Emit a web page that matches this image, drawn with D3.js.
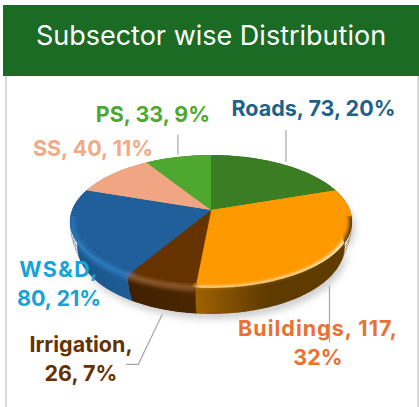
<!DOCTYPE html>
<html>
<head>
<meta charset="utf-8">
<script src="https://cdn.jsdelivr.net/npm/d3@7"></script>
<style>
  html, body { margin: 0; padding: 0; background: #fff; }
  svg { display: block; }
  text { font-family: Inter, "Open Sans", sans-serif; }
</style>
</head>
<body>
<div id="chart"></div>
<script>
// the data
var categories = ["Roads", "Buildings", "Irrigation", "WS&D", "SS", "PS"];
var values = [73, 117, 26, 80, 40, 33];
var percents = [20, 32, 7, 21, 11, 9];
var title = "Subsector wise Distribution";

// colours per slice, same order as categories
var faceColors = ["#3b7d23", "#fe9900", "#663300", "#215f9a", "#f0a683", "#4ea72e"];
var bevelColors = ["#3b7d23", "#fe9900", "#8a5a2a", "#2a78bb", "#f0a683", "#4ea72e"];
var wallColors = [["#2c5e1a", "#2c5e1a"], ["#a06200", "#5f3b00"], ["#3f2000", "#4a2600"],
                  ["#1b5488", "#1d5c96"], ["#b07a60", "#b07a60"], ["#3a7d22", "#3a7d22"]];
var labelColors = ["#1f6289", "#e97132", "#663300", "#17a2d8", "#f2a984", "#4ea72e"];

var width = 419, height = 407;

var svg = d3.select("#chart").append("svg")
  .attr("width", width)
  .attr("height", height);
var defs = svg.append("defs");

// frame and header
svg.append("rect").attr("x", 5).attr("y", 70).attr("width", 2).attr("height", height - 70).attr("fill", "#d9d9d9");
svg.append("rect").attr("x", 417).attr("y", 70).attr("width", 2).attr("height", height - 70).attr("fill", "#d9d9d9");
svg.append("rect").attr("x", 3).attr("y", 5).attr("width", 416).attr("height", 71).attr("fill", "#1b6b25");
svg.append("text")
  .attr("x", 211).attr("y", 45)
  .attr("text-anchor", "middle")
  .attr("fill", "#fff")
  .style("font-size", "27px")
  .text(title);

// pie geometry: a tilted disc with a bit of perspective, rounded toward the bottom
var cx = 211, cy = 210, R = 139, Ry = 64.5, persp = 0.173, depth = 25;

function rOf(d) { return 1 - 0.055 * Math.pow(d / depth, 2); }
function project(a, d, r) {
  var u = Math.sin(a), v = Math.cos(a);
  var s = 1 / (1 + persp * v);
  var k = r * rOf(d);
  return [cx + R * k * u * s, cy - Ry * k * v * s + d * s];
}
var line = d3.line();
function arcPoints(a0, a1, d, r) {
  var n = Math.max(2, Math.ceil((a1 - a0) * 40));
  return d3.range(n + 1).map(function(i) { return project(a0 + (a1 - a0) * i / n, d, r); });
}
function facePath(s, r) {
  return line([[cx, cy]].concat(arcPoints(s.startAngle, s.endAngle, 0, r))) + "Z";
}
function bandPath(s, d0, d1) {
  return line(arcPoints(s.startAngle, s.endAngle, d0, 1)
    .concat(arcPoints(s.startAngle, s.endAngle, d1, 1).reverse())) + "Z";
}
// wall outline built from thin rings so the rounded profile survives
function wallPath(s) {
  return d3.range(0, depth, 4).map(function(d) {
    return bandPath(s, d, Math.min(d + 4.5, depth));
  }).join("");
}

var slices = d3.pie().sort(null).value(function(d) { return d; })(values);

defs.append("filter").attr("id", "shadowBlur")
  .attr("x", "-20%").attr("y", "-20%").attr("width", "140%").attr("height", "140%")
  .append("feGaussianBlur").attr("stdDeviation", 3.5);
defs.append("filter").attr("id", "edgeBlur")
  .attr("x", "-10%").attr("y", "-10%").attr("width", "120%").attr("height", "120%")
  .append("feGaussianBlur").attr("stdDeviation", 2);

var clip = defs.append("clipPath").attr("id", "pieClip");
slices.forEach(function(s) {
  clip.append("path").attr("d", facePath(s, 1));
  clip.append("path").attr("d", wallPath(s));
});

// wall gradients, run left to right across each slice
slices.forEach(function(s, i) {
  var xs = arcPoints(s.startAngle, s.endAngle, 0, 1).map(function(p) { return p[0]; });
  var g = defs.append("linearGradient").attr("id", "wall" + i)
    .attr("gradientUnits", "userSpaceOnUse")
    .attr("x1", d3.min(xs)).attr("x2", i == 1 ? d3.min(xs) + 70 : d3.max(xs))
    .attr("y1", 0).attr("y2", 0);
  g.append("stop").attr("offset", 0).attr("stop-color", wallColors[i][0]);
  g.append("stop").attr("offset", 1).attr("stop-color", wallColors[i][1]);
});

// soft shadow under the disc
svg.append("g").attr("filter", "url(#shadowBlur)").attr("opacity", 0.9)
  .attr("transform", "translate(3,5)")
  .selectAll("path").data(slices).join("path")
  .attr("d", function(d) { return bandPath(d, 2, depth); })
  .attr("fill", "#c9c9c9");

var pie = svg.append("g").attr("clip-path", "url(#pieClip)");

// side walls
pie.selectAll(".wall").data(slices).join("path")
  .attr("class", "wall")
  .attr("d", wallPath)
  .attr("fill", function(d, i) { return "url(#wall" + i + ")"; })
  .attr("stroke", function(d, i) { return "url(#wall" + i + ")"; })
  .attr("stroke-width", 0.5);

// bevel: face plus a rim band in one blurred shape, so it fades into the wall
// Buildings has no light band, its face just fades into the dark wall
pie.append("g").attr("filter", "url(#edgeBlur)")
  .selectAll("path").data(slices).join("path")
  .attr("d", function(d, i) { return i == 1 ? facePath(d, 0.97) : facePath(d, 1) + bandPath(d, 0, 3); })
  .attr("fill", function(d, i) { return bevelColors[i]; });

// faces, blurred copy first for a soft inner edge of the bevel
pie.append("g").attr("filter", "url(#edgeBlur)")
  .selectAll("path").data(slices).join("path")
  .attr("d", function(d) { return facePath(d, 0.97); })
  .attr("fill", function(d, i) { return faceColors[i]; });
pie.selectAll(".face").data(slices).join("path")
  .attr("class", "face")
  .attr("d", function(d) { return facePath(d, 0.94); })
  .attr("fill", function(d, i) { return faceColors[i]; })
  .attr("stroke", function(d, i) { return faceColors[i]; })
  .attr("stroke-width", 0.4);

// the back rim shows no wall, keep it sharp up to the outline
// (this runs a little past the widest point of the disc on both sides)
var sideRight = Math.PI * 0.53, sideLeft = Math.PI * 1.47;
var backParts = [];
slices.forEach(function(s, i) {
  var a0 = s.startAngle, a1 = s.endAngle;
  if (a1 <= sideRight || a0 >= sideLeft) backParts.push({startAngle: a0, endAngle: a1, i: i});
  else if (a0 < sideRight) backParts.push({startAngle: a0, endAngle: sideRight, i: i});
  else if (a1 > sideLeft) backParts.push({startAngle: sideLeft, endAngle: a1, i: i});
});
pie.selectAll(".back").data(backParts).join("path")
  .attr("class", "back")
  .attr("d", function(d) { return facePath(d, 1); })
  .attr("fill", function(d) { return faceColors[d.i]; });

// leader lines start at the slice middle and use small offsets from there
function mid(s) { return (s.startAngle + s.endAngle) / 2; }
var leaderOffsets = [
  [[4, -2], [4, -34]],
  null, null, null, null,
  [[0, -2], [0, -22]]
];
var leaders = [];
slices.forEach(function(s, i) {
  var p = project(mid(s), 0, 1);
  if (leaderOffsets[i]) {
    leaders.push(leaderOffsets[i].map(function(o) { return [p[0] + o[0], p[1] + o[1]]; }));
  }
});
var pb = project(mid(slices[1]), depth, 1);
leaders.push([[pb[0] + 3, pb[1] + 5], [pb[0] + 3, pb[1] + 62]]);
var pi = project(mid(slices[2]), depth, 1);
leaders.push([[pi[0], pi[1] + 5], [pi[0] - 24, pi[1] + 55], [pi[0] - 36, pi[1] + 55]]);

svg.selectAll(".leader").data(leaders).join("path")
  .attr("class", "leader")
  .attr("d", line)
  .attr("fill", "none")
  .attr("stroke", "#a6a6a6")
  .attr("stroke-width", 1.2);

// data labels: line breaks as in the picture
var labelLines = categories.map(function(c, i) {
  var v = values[i], p = percents[i] + "%";
  if (c == "WS&D") return [c + ",", v + ", " + p];
  if (c == "Irrigation") return [c + ",", v + ", " + p];
  if (c == "Buildings") return [c + ", " + v + ",", p];
  return [c + ", " + v + ", " + p];
});
var labelAt = [[313.5, 116], [318, 336], [81, 352], [59, 277], [93, 156], [153, 122]];
var firstLineSpacing = [0, 1, 0, 1.4, 0, 0];
var lineStep = 29;

labelLines.forEach(function(lines, i) {
  svg.append("text")
    .attr("text-anchor", "middle")
    .attr("fill", labelColors[i])
    .style("font-size", "21.5px")
    .style("font-weight", 700)
    .selectAll("tspan").data(lines).join("tspan")
    .attr("x", labelAt[i][0])
    .attr("y", function(d, j) { return labelAt[i][1] + j * lineStep; })
    .style("letter-spacing", function(d, j) { return j == 0 ? firstLineSpacing[i] + "px" : "0"; })
    .text(function(d) { return d; });
});
</script>
</body>
</html>
